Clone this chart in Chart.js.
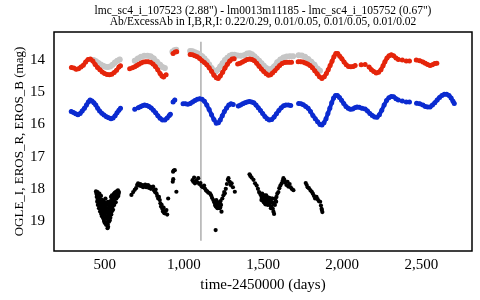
<!DOCTYPE html>
<html>
<head>
<meta charset="utf-8">
<script src="https://cdn.jsdelivr.net/npm/chart.js@4.4.1/dist/chart.umd.min.js"></script>
<style>
  body { margin: 0; background: #fff; }
</style>
</head>
<body>
<canvas id="lightCurve" width="480" height="300"></canvas>
<script>
// time-2450000 (days), magnitude; null = gap in the light curve
const erosR = [
  [290,14.23],[305,14.25],[320,14.29],[335,14.27],[350,14.22],[365,14.16],[380,14.06],[395,13.98],[410,13.97],[425,14.03],
  [440,14.14],[455,14.23],[470,14.3],[485,14.37],[500,14.42],[515,14.45],[530,14.46],[545,14.44],[560,14.39],[575,14.32],[590,14.22],[600,14.18],
  null,[658,14.27],null,
  [675,14.24],[690,14.21],[703,14.17],[716,14.13],[730,14.09],[745,14.06],[760,14.05],[775,14.05],[790,14.07],
  [805,14.12],[820,14.2],[835,14.3],[850,14.42],[862,14.5],[872,14.53],[888,14.46],
  null,[932,13.8],null,[945,13.75],[955,13.74],null,
  [1040,13.83],[1055,13.84],[1070,13.87],[1085,13.9],[1100,13.95],[1115,14.02],[1130,14.08],[1145,14.15],[1160,14.24],[1175,14.35],
  [1190,14.47],[1205,14.55],[1217,14.57],[1230,14.5],[1245,14.38],[1260,14.25],[1275,14.13],[1290,14.03],[1305,13.97],[1318,13.96],
  null,
  [1340,14.12],[1355,14.1],[1370,14.06],[1385,14.02],[1400,13.98],[1415,13.97],[1430,13.98],[1445,14.02],[1460,14.1],[1475,14.19],
  [1490,14.28],[1505,14.36],[1520,14.43],[1535,14.47],[1548,14.46],[1560,14.4],[1575,14.33],[1590,14.25],[1605,14.17],[1620,14.11],
  [1635,14.08],[1650,14.07],[1665,14.07],[1680,14.07],
  null,
  [1722,14.05],[1737,14.05],[1752,14.06],[1767,14.09],[1782,14.12],[1797,14.17],[1812,14.24],[1827,14.33],[1842,14.43],[1857,14.52],
  [1872,14.57],[1887,14.52],[1900,14.42],[1912,14.3],[1924,14.17],[1936,14.04],[1948,13.9],[1960,13.8],[1972,13.8],[1985,13.88],
  [1998,13.96],[2012,14.06],[2026,14.15],[2040,14.2],[2055,14.21],[2070,14.2],[2082,14.17],
  null,[2120,14.15],null,[2145,14.14],null,
  [2170,14.22],[2185,14.3],[2200,14.36],[2215,14.4],[2230,14.38],[2245,14.3],[2258,14.18],[2270,14.05],[2283,13.94],[2296,13.87],
  [2310,13.84],[2325,13.87],[2340,13.94],[2355,13.98],
  null,[2380,14.0],null,[2405,14.03],[2425,14.03],null,
  [2468,14.0],[2490,14.02],[2510,14.06],[2525,14.1],[2540,14.14],[2555,14.17],[2570,14.15],[2585,14.11],[2598,14.1]
];

const erosI = [
  [430,14.0],[445,14.04],[460,14.09],[475,14.14],[490,14.18],[505,14.21],[520,14.22],[535,14.2],[550,14.15],[565,14.08],[580,14.02],[595,13.98],
  null,
  [690,14.02],[710,13.95],[730,13.9],[750,13.87],[770,13.87],[790,13.88],[810,13.95],[830,14.05],[850,14.15],[865,14.22],[880,14.25],
  null,[928,13.74],[940,13.7],[952,13.68],null,
  [1040,13.72],[1055,13.73],[1070,13.76],[1085,13.79],[1100,13.83],[1115,13.88],[1130,13.95],[1145,14.04],[1160,14.14],[1175,14.25],
  [1190,14.33],[1202,14.36],[1215,14.3],[1230,14.2],[1245,14.1],[1260,14.0],[1275,13.93],[1290,13.87],[1305,13.84],[1320,13.84],
  [1340,13.86],[1360,13.87],[1380,13.85],[1400,13.8],[1415,13.79],[1430,13.82],[1445,13.88],[1460,13.95],[1475,14.02],[1490,14.1],
  [1505,14.18],[1520,14.25],[1535,14.3],[1550,14.28],
  [1570,14.2],[1590,14.07],[1610,13.98],[1630,13.92],[1650,13.89],[1670,13.88],[1690,13.88],
  null,
  [1725,13.85],[1745,13.86],[1765,13.9],[1785,13.97],[1805,14.05],[1825,14.15],[1845,14.27],[1860,14.33]
];

const erosB = [
  [289,15.6],[303,15.63],[317,15.67],[331,15.7],[345,15.66],[358,15.58],[372,15.5],[385,15.4],[397,15.3],[408,15.24],
  [420,15.27],[432,15.33],[444,15.4],[456,15.5],[468,15.58],[482,15.65],[496,15.71],[511,15.76],[525,15.79],[540,15.82],
  [553,15.8],[566,15.73],[578,15.64],[590,15.56],[600,15.5],
  null,[690,15.53],null,
  [712,15.48],[725,15.45],[738,15.42],[752,15.4],[766,15.41],[780,15.44],[794,15.49],[808,15.56],[822,15.64],
  [836,15.73],[850,15.81],[865,15.86],[880,15.86],[895,15.8],[908,15.72],[915,15.68],
  null,[932,15.3],[943,15.24],null,
  [995,15.36],[1010,15.36],[1025,15.37],null,
  [1040,15.35],[1055,15.3],[1070,15.26],[1085,15.22],[1100,15.2],[1115,15.22],[1130,15.28],
  [1145,15.4],[1160,15.54],[1175,15.7],[1190,15.85],[1205,15.96],[1218,15.95],[1230,15.86],[1243,15.73],[1256,15.6],[1270,15.49],
  [1284,15.4],[1298,15.36],[1312,15.38],
  null,
  [1344,15.43],[1358,15.4],[1372,15.36],[1386,15.33],[1400,15.3],[1414,15.29],[1428,15.3],[1442,15.33],[1456,15.4],[1470,15.48],
  [1484,15.57],[1498,15.66],[1512,15.75],[1526,15.82],[1540,15.86],[1555,15.85],[1570,15.77],[1585,15.67],[1600,15.57],[1615,15.48],
  [1630,15.42],[1645,15.4],[1660,15.4],[1675,15.41],
  null,
  [1725,15.35],[1740,15.36],[1755,15.39],[1770,15.44],[1785,15.5],[1800,15.6],[1815,15.72],[1830,15.82],[1845,15.92],[1860,16.0],
  [1872,16.02],[1885,15.95],[1898,15.82],[1910,15.66],[1922,15.5],[1934,15.33],[1946,15.18],[1958,15.1],[1970,15.1],[1983,15.16],
  [1996,15.25],[2010,15.35],[2024,15.44],[2038,15.5],[2052,15.53],[2066,15.52],[2080,15.48],[2094,15.46],[2108,15.47],
  [2125,15.5],[2145,15.52],[2160,15.58],[2175,15.66],[2190,15.72],[2205,15.77],[2220,15.78],[2235,15.7],[2250,15.56],[2265,15.4],
  [2280,15.26],[2295,15.17],[2310,15.13],[2325,15.14],[2340,15.2],[2355,15.24],
  null,[2380,15.27],null,[2405,15.3],[2425,15.3],null,
  [2470,15.34],[2490,15.36],[2510,15.4],[2525,15.44],[2540,15.46],[2555,15.46],[2570,15.4],
  [2585,15.33],[2600,15.24],[2615,15.16],[2630,15.1],[2645,15.06],[2660,15.06],[2675,15.1],[2688,15.18],[2700,15.28],[2708,15.35]
];

const ogleI = [
  [445,18.08],[448,18.15],[452,18.22],[455,18.1],[458,18.3],[460,18.18],[463,18.38],[466,18.25],[468,18.45],[470,18.32],
  [472,18.55],[475,18.4],[477,18.22],[480,18.5],[482,18.62],[485,18.35],[487,18.7],[490,18.45],[492,18.58],[495,18.8],
  [497,18.4],[500,18.65],[502,18.52],[505,18.9],[507,18.72],[510,18.6],[512,18.85],[514,19.05],[516,18.5],[518,18.75],
  [520,18.95],[522,19.18],[524,18.6],[526,18.82],[528,18.45],[530,18.7],[532,18.98],[535,18.55],[537,18.38],[540,18.62],
  [542,18.8],[545,18.48],[547,18.3],[550,18.55],[552,18.42],[555,18.2],[558,18.35],[560,18.5],[563,18.25],[565,18.12],
  [568,18.3],[570,18.42],[573,18.18],[576,18.08],[580,18.25],[584,18.05],[588,18.15],[500,19.05],[495,18.95],[510,19.12],
  [485,18.55],[475,18.62],[465,18.48],[455,18.35],[530,18.88],[545,18.7],[520,18.4],[505,18.3],[540,18.25],
  [450,18.25],[453,18.4],[457,18.5],[461,18.28],[464,18.6],[467,18.15],[471,18.7],[474,18.5],[478,18.78],[481,18.35],
  [483,18.85],[486,18.5],[489,18.9],[491,18.68],[494,18.6],[496,19.0],[499,18.78],[503,18.62],[506,19.08],[509,18.45],
  [513,18.7],[517,18.92],[519,19.1],[523,18.75],[527,19.02],[529,18.6],[533,18.78],[536,18.9],[539,18.45],[543,18.6],
  [546,18.2],[549,18.4],[553,18.65],[556,18.3],[559,18.15],[562,18.4],[566,18.22],[571,18.1],[574,18.3],[578,18.15],
  [582,18.12],[586,18.22],[590,18.1],[518,19.22],
  [669,18.19],[680,18.1],[690,18.03],[698,17.98],[705,17.88],[711,17.83],[718,17.9],[725,17.85],[732,17.92],[738,17.88],
  [743,17.95],[750,17.9],[756,17.87],[762,17.95],[768,17.9],[774,17.88],[780,17.97],[786,17.93],[792,18.0],[800,17.95],
  [806,17.93],[812,18.05],[818,18.1],[822,18.02],[827,18.14],[832,18.22],[838,18.3],[843,18.25],[848,18.35],[852,18.45],
  [856,18.55],[860,18.5],[864,18.62],[868,18.7],[872,18.58],[876,18.75],[880,18.76],[885,18.68],[890,18.66],[895,18.8],[901,18.3],
  [932,17.47],[936,17.43],[943,17.42],[930,17.78],[933,17.7],[953,18.09],
  [1055,17.73],[1060,17.78],[1065,17.65],[1070,17.83],[1078,17.75],[1085,17.8],[1091,17.67],[1098,17.85],[1105,17.82],[1112,17.92],
  [1120,17.95],[1128,17.9],[1133,17.99],[1140,18.05],[1148,18.08],[1155,18.12],[1165,18.14],[1172,18.2],[1178,18.28],[1186,18.35],
  [1192,18.42],[1197,18.5],[1202,18.55],[1207,18.48],[1212,18.6],[1218,18.45],[1222,18.5],[1228,18.45],[1232,18.38],[1238,18.71],
  [1243,18.3],[1250,18.2],[1255,18.1],[1259,18.14],[1265,18.0],[1272,17.85],[1278,17.72],[1282,17.67],[1290,17.78],[1296,17.88],
  [1302,17.83],[1310,17.95],[1322,18.09],[1201,19.28],[1230,18.58],
  [1205,18.35],[1215,18.52],[1225,18.6],[1235,18.5],[1210,18.4],
  [1415,17.55],[1420,17.6],[1428,17.65],[1440,17.72],[1450,17.83],[1460,17.9],[1468,18.0],[1475,18.1],[1481,18.14],[1487,18.2],
  [1492,18.28],[1497,18.22],[1502,18.32],[1507,18.25],[1513,18.35],[1518,18.28],[1523,18.4],[1528,18.32],[1533,18.45],[1538,18.38],
  [1543,18.5],[1548,18.35],[1553,18.55],[1558,18.42],[1562,18.62],[1566,18.71],[1570,18.78],[1575,18.5],[1580,18.38],[1585,18.25],
  [1590,18.15],[1597,18.1],[1603,17.98],[1610,17.9],[1618,17.83],[1624,17.75],[1629,17.67],[1635,17.72],[1640,17.8],[1648,17.88],
  [1655,17.78],[1660,17.93],[1668,17.85],[1675,17.95],[1681,18.0],[1692,18.04],[1520,18.2],[1540,18.28],[1560,18.3],
  [1495,18.15],[1505,18.42],[1510,18.2],[1515,18.48],[1525,18.25],[1530,18.5],[1535,18.3],[1545,18.42],[1550,18.6],[1555,18.3],
  [1565,18.45],[1578,18.3],[1583,18.4],[1500,18.35],[1490,18.35],
  [1770,17.82],[1776,17.88],[1782,17.95],[1790,17.98],[1800,18.05],[1808,18.09],[1815,18.15],[1822,18.22],[1829,18.3],[1838,18.25],
  [1845,18.32],[1852,18.38],[1861,18.4],[1866,18.52],[1870,18.62],[1872,18.66],[1875,18.72]
];

const markerLine = [[1108,13.43],[1108,19.61]];

const xTicks = [500, 1000, 1500, 2000, 2500];
const yTicks = [14, 15, 16, 17, 18, 19];

const titleLines = [
  'lmc_sc4_i_107523 (2.88") - lm0013m11185 - lmc_sc4_i_105752 (0.67")',
  'Ab/ExcessAb in I,B,R,I: 0.22/0.29, 0.01/0.05, 0.01/0.05, 0.01/0.02'
];

const toXY = arr => arr.map(p => p ? { x: p[0], y: p[1] } : { x: null, y: null });

const serif = 'Liberation Serif';

// box around the plot plus the two-line heading centred over it
const framePlugin = {
  id: 'frame',
  afterDatasetsDraw(chart) {
    const { ctx, chartArea: a } = chart;
    ctx.save();
    ctx.strokeStyle = '#000';
    ctx.lineWidth = 1.5;
    ctx.strokeRect(a.left, a.top, a.right - a.left, a.bottom - a.top);
    ctx.fillStyle = '#000';
    ctx.font = '11.5px ' + serif;
    ctx.textAlign = 'center';
    ctx.textBaseline = 'middle';
    const cx = (a.left + a.right) / 2;
    ctx.fillText(titleLines[0], cx, 11);
    ctx.fillText(titleLines[1], cx, 22);
    ctx.restore();
  }
};

const curve = (color, width, radius) => ({
  showLine: true, spanGaps: false,
  borderColor: color, backgroundColor: color,
  borderWidth: width, borderCapStyle: 'round', borderJoinStyle: 'round',
  pointRadius: radius, pointBorderWidth: 0
});

const ctx = document.getElementById('lightCurve').getContext('2d');
new Chart(ctx, {
  type: 'scatter',
  data: {
    datasets: [
      {
        data: toXY(markerLine), showLine: true, borderColor: '#9a9a9a', borderWidth: 1.2,
        pointRadius: 0, order: 5
      },
      Object.assign({ data: toXY(erosI), order: 4 }, curve('#c6c6c6', 5, 3)),
      Object.assign({ data: toXY(erosR), order: 3 }, curve('#e5250b', 4, 2.5)),
      Object.assign({ data: toXY(erosB), order: 2 }, curve('#0b2bd0', 4, 2.5)),
      {
        data: toXY(ogleI), backgroundColor: '#000', borderWidth: 0,
        pointRadius: 2.1, order: 1
      }
    ]
  },
  options: {
    responsive: false,
    animation: false,
    layout: { padding: { left: 0, right: 8, top: 32, bottom: 0 } },
    plugins: {
      legend: { display: false },
      tooltip: { enabled: false },
      title: { display: false }
    },
    scales: {
      x: {
        type: 'linear',
        min: 180,
        max: 2820,
        grid: { display: false, drawTicks: false },
        border: { display: false },
        afterFit: s => { s.height = 49; },
        afterBuildTicks: s => { s.ticks = xTicks.map(v => ({ value: v })); },
        ticks: {
          color: '#000',
          padding: 5,
          font: { family: serif, size: 15 },
          callback: v => v.toLocaleString('en-US')
        },
        title: {
          display: true,
          text: 'time-2450000 (days)',
          color: '#000',
          font: { family: serif, size: 15 },
          padding: { top: 0, bottom: 6 }
        }
      },
      y: {
        type: 'linear',
        reverse: true,
        min: 13.13,
        max: 19.93,
        grid: { display: false, drawTicks: false },
        border: { display: false },
        afterFit: s => { s.width = 54; },
        afterBuildTicks: s => { s.ticks = yTicks.map(v => ({ value: v })); },
        ticks: {
          color: '#000',
          padding: 9,
          font: { family: serif, size: 15 }
        },
        title: {
          display: true,
          text: 'OGLE_I, EROS_R, EROS_B (mag)',
          color: '#000',
          font: { family: serif, size: 13 },
          padding: { top: 12, bottom: 0 }
        }
      }
    }
  },
  plugins: [framePlugin]
});
</script>
</body>
</html>
